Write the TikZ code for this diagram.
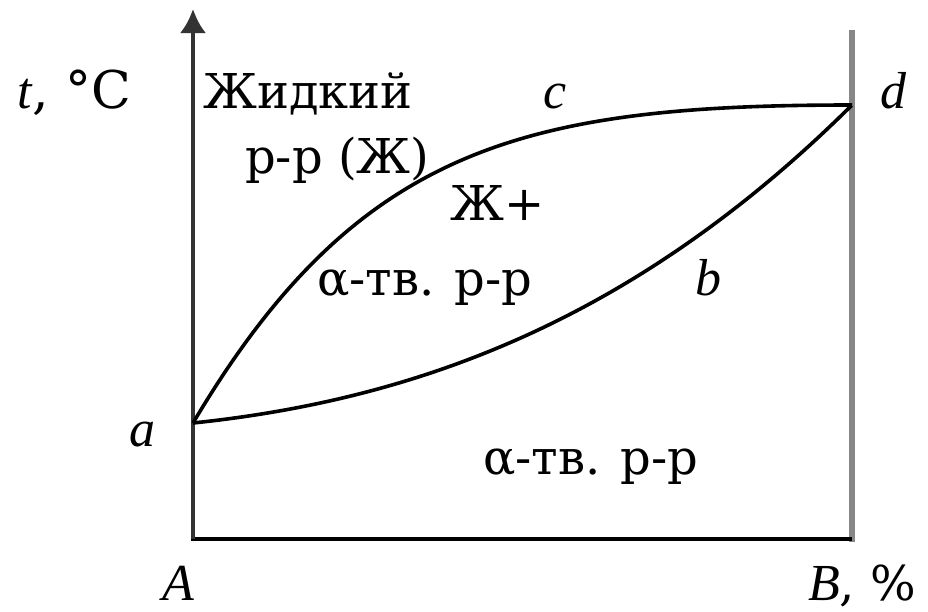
\documentclass[tikz,border=0pt]{standalone}
\usepackage{fontspec}
\setmainfont{Liberation Serif}
\newfontfamily\upserif{DejaVu Serif}
\usetikzlibrary{arrows.meta}
\begin{document}
\begin{tikzpicture}[x=1pt,y=-1pt,
  lbl/.style={anchor=base west,inner sep=0pt,font=\fontsize{52}{60}\selectfont},
  ulbl/.style={anchor=base west,inner sep=0pt,font=\upserif\fontsize{48}{56}\selectfont},
  curve/.style={line width=3.6pt,black},
  axis/.style={line width=4pt,black!80}]
\useasboundingbox (0,0) rectangle (928,611);
\coordinate (O) at (193,539);
\coordinate (top) at (193,9);
\coordinate (a) at (193,423);
\coordinate (d) at (852,105);
\coordinate (Bend) at (852,539);
\coordinate (Rtop) at (852,30);
% axes
\draw[line width=6pt,black!47] (Rtop) -- ([yshift=-3pt]Bend);
\draw[line width=3.5pt,black] ([xshift=-2pt]O) -- (Bend);
\draw[axis,-{Latex[length=24pt,width=26pt]}] (O) -- (top);
% liquidus
\draw[curve] (a) .. controls (356,148) and (522,105) .. (d);
% solidus
\draw[curve] plot[domain=0:1,samples=80,variable=\u] ({193+659*\u},{423-318*(0.2175*\u+0.5075*\u*\u+0.275*\u*\u*\u)});
% labels
\node[lbl] (tC) at (17,108) {\textit{t}{\upserif, °C}};
\node[ulbl] (liq1) at (203,108) {Жидкий};
\node[ulbl] (liq2) at (245,173) {р-р (Ж)};
\node[lbl] (c) at (543,108) {\textit{c}};
\node[lbl] (dl) at (880,108) {\textit{d}};
\node[ulbl] (mix1) at (450,220) {Ж+};
\node[ulbl] (mix2) at (317,295) {α-тв. р-р};
\node[lbl] (b) at (695,295) {\textit{b}};
\node[lbl] (al) at (129,446) {\textit{a}};
\node[ulbl] (sol) at (483,474) {α-тв. р-р};
\node[lbl] (A) at (162,600) {\textit{A}};
\node[lbl] (B) at (808,600) {\textit{B}{\upserif\fontsize{48}{56}\selectfont, \%}};
\end{tikzpicture}
\end{document}
